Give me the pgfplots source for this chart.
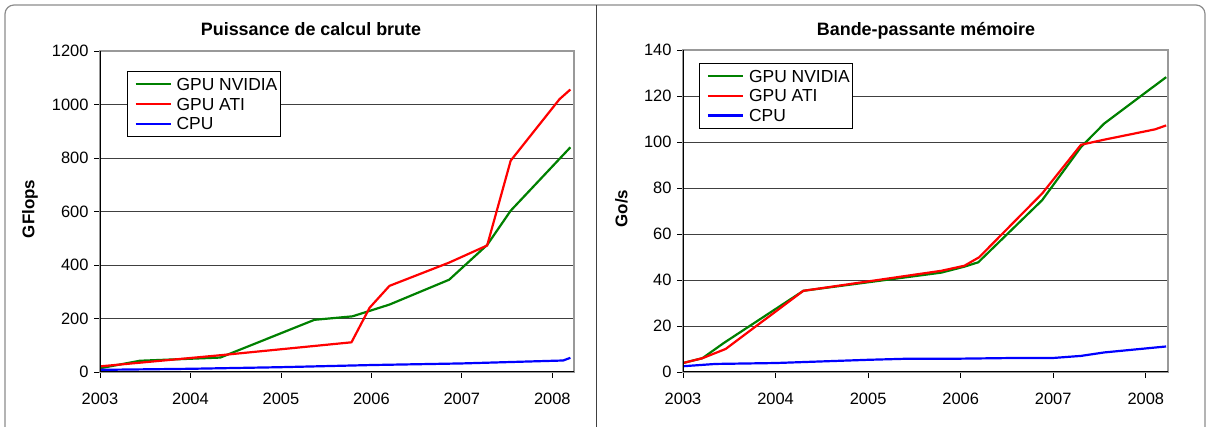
\documentclass[border=0pt]{standalone}
\usepackage{pgfplots}
\pgfplotsset{compat=1.18}
\usepackage{fontspec}
\setmainfont{Liberation Sans}
\definecolor{cgreen}{RGB}{0,128,0}
\definecolor{cred}{RGB}{255,0,0}
\definecolor{cblue}{RGB}{0,0,255}
\pgfplotsset{
  excel/.style={
    scale only axis,
    xmin=2003, xmax=2008.24, ymin=0,
    xtick={2003,2004,2005,2006,2007,2008},
    xticklabels={2003,2004,2005,2006,2007,2008},
    /pgf/number format/1000 sep={},
    /pgf/number format/assume math mode=true,
    tick label style={font=\fontsize{16.5}{18}\selectfont},
    tick align=outside, tick pos=left,
    major tick length=6bp,
    tick style={black, line width=0.8bp},
    ymajorgrids,
    grid style={black!75, line width=0.9bp},
    axis line style={draw=black!40, line width=1.2bp},
    xticklabel style={yshift=-12bp},
    yticklabel style={xshift=-2bp},
    legend cell align=left,
    legend image code/.code={\path (0bp,0bp); \draw[##1,line width=2.2bp] (5bp,0bp) -- (40bp,0bp);},
    legend style={draw=black, line width=0.8bp, fill=white,
      font=\fontsize{17.5}{19}\selectfont,
      inner xsep=2bp, inner ysep=6bp,
      nodes={inner sep=1bp, text depth=0pt},
      row sep=5.5bp,
      /tikz/every odd column/.append style={column sep=4bp}},
  },
  sg/.style={cgreen, line width=2.2bp, mark=none},
  sr/.style={cred, line width=2.2bp, mark=none},
  sb/.style={cblue, line width=2.2bp, mark=none},
}
\begin{document}
\begin{tikzpicture}
\useasboundingbox (0,0) rectangle (1207bp,427bp);
\draw[black!45, line width=1.2bp, rounded corners=9bp] (5bp,-20bp) rectangle (1205bp,422bp);
\draw[black!75, line width=1.3bp] (596.7bp,0bp) -- (596.7bp,422bp);

\begin{axis}[excel,
  at={(100bp,55bp)}, anchor=south west,
  width=474bp, height=321bp,
  ymax=1200, ytick={0,200,...,1200},
  yticklabels={0,200,400,600,800,1000,1200},
  legend style={at={(0.057,0.938)}, anchor=north west},
]
\addplot[sg] coordinates {(2003.0,14) (2003.44,42) (2004.33,54) (2005.37,195) (2005.79,208) (2006.2,252) (2006.86,345) (2007.28,475) (2007.54,603) (2008.2,840)};
\addlegendentry{GPU NVIDIA}
\addplot[sr] coordinates {(2003.0,21) (2004.34,63) (2005.78,111) (2005.98,240) (2006.2,322) (2006.86,409) (2007.28,473) (2007.54,790) (2008.08,1020) (2008.2,1056)};
\addlegendentry{GPU ATI}
\addplot[sb] coordinates {(2003.0,8) (2004.0,12) (2005.0,18) (2006.0,26) (2007.0,32) (2008.12,43) (2008.2,53)};
\addlegendentry{CPU}
\draw[black, line width=1.2bp] (rel axis cs:0,1) -- (rel axis cs:0,0) -- (rel axis cs:1,0);
\end{axis}

\begin{axis}[excel,
  at={(683bp,55bp)}, anchor=south west,
  width=485bp, height=322bp,
  ymax=140, ytick={0,20,...,140},
  yticklabels={0,20,40,60,80,100,120,140},
  legend style={at={(0.034,0.9606)}, anchor=north west},
]
\addplot[sg] coordinates {(2003.0,3.9) (2003.21,6) (2003.44,12.6) (2004.3,35.3) (2005.79,43.2) (2006.04,45.8) (2006.19,47.7) (2006.88,74.7) (2007.3,97.8) (2007.55,108) (2008.22,128.2)};
\addlegendentry{GPU NVIDIA}
\addplot[sr] coordinates {(2003.0,3.9) (2003.21,6) (2003.46,10) (2004.3,35.3) (2005.79,44) (2006.04,46.2) (2006.2,49.9) (2006.88,77.6) (2007.3,98.8) (2007.55,101) (2008.1,105.5) (2008.22,107.2)};
\addlegendentry{GPU ATI}
\addplot[sb] coordinates {(2003.0,2.5) (2003.35,3.5) (2004.0,3.9) (2005.0,5.3) (2005.45,5.8) (2006.0,5.8) (2006.6,6.1) (2007.0,6.1) (2007.3,7) (2007.55,8.5) (2008.22,11.1)};
\addlegendentry{CPU}
\draw[black, line width=1.2bp] (rel axis cs:0,1) -- (rel axis cs:0,0) -- (rel axis cs:1,0);
\end{axis}

\node[font=\bfseries\fontsize{18}{20}\selectfont, anchor=base] at (311bp,391bp) {Puissance de calcul brute};
\node[font=\bfseries\fontsize{18}{20}\selectfont, anchor=base] at (926bp,391bp) {Bande-passante mémoire};
\node[font=\bfseries\fontsize{17}{19}\selectfont, rotate=90] at (30bp,218bp) {GFlops};
\node[font=\bfseries\fontsize{17}{19}\selectfont, rotate=90] at (621.5bp,218.5bp) {Go/s};
\end{tikzpicture}
\end{document}
